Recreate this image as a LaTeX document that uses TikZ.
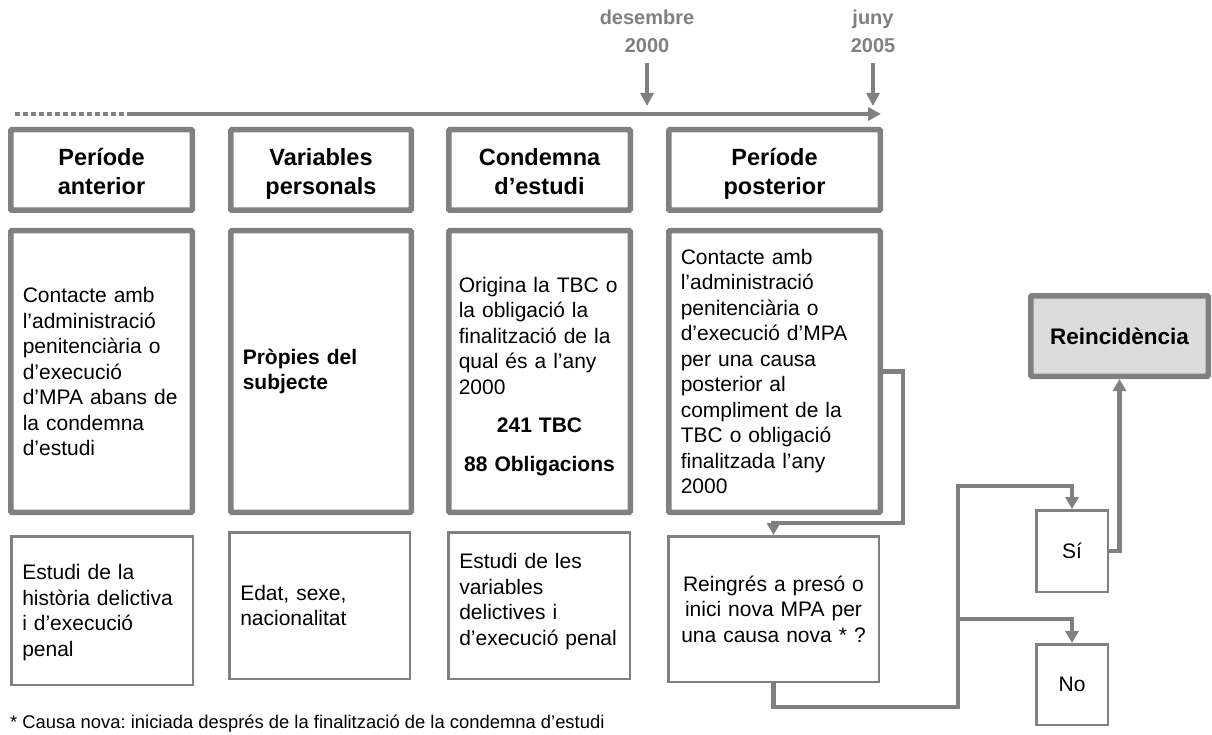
\documentclass[tikz,border=0pt]{standalone}
\usepackage{fontspec}
\setmainfont{Liberation Sans}
\usetikzlibrary{arrows.meta}
\frenchspacing
\definecolor{linegray}{HTML}{808080}
\definecolor{reincfill}{HTML}{DCDCDC}
\newcommand{\bodyfont}{\fontsize{21}{25.5}\selectfont}
\newcommand{\headfont}{\fontsize{23.5}{29}\selectfont\bfseries}
\newcommand{\datefont}{\fontsize{20}{28}\selectfont\bfseries}
\newcommand{\notefont}{\fontsize{18.4}{22}\selectfont}
\newcommand{\hdtop}{\rule{0pt}{27pt}}
\newcommand{\hdbot}{\rule[-6pt]{0pt}{6pt}}
\tikzstyle{headbox} = [rectangle, draw=linegray, line width=5.5pt, rounded corners=1pt, minimum height=80.5pt, align=center, font=\headfont]
\tikzstyle{midbox} = [rectangle, draw=linegray, line width=5.5pt, rounded corners=1pt, minimum height=281.5pt, inner xsep=12pt, align=left, font=\bodyfont]
\tikzstyle{lowbox} = [rectangle, draw=linegray, line width=2.5pt, minimum height=146.5pt, inner xsep=11pt, align=left, font=\bodyfont]
\tikzstyle{answer} = [rectangle, draw=linegray, line width=2.5pt, minimum width=71.5pt, minimum height=81.5pt, font=\bodyfont]
\tikzstyle{goalbox} = [rectangle, draw=linegray, line width=5.5pt, rounded corners=1pt, fill=reincfill, minimum width=177.5pt, minimum height=80.5pt, font=\fontsize{22.5}{27}\selectfont\bfseries]
\tikzstyle{datelabel} = [inner sep=0pt, align=center, text=linegray, font=\datefont]
\tikzstyle{arrow} = [line width=4.5pt, draw=linegray, -{Triangle[length=12pt,width=13pt]}]
\tikzstyle{timeline} = [line width=4pt, draw=linegray, -{Triangle[length=13pt,width=13pt]}]
\tikzstyle{dotline} = [line width=4pt, draw=linegray, dash pattern=on 5pt off 3pt]

\begin{document}
\begin{tikzpicture}[x=1pt, y=-1pt]
    \useasboundingbox (0,0) rectangle (1212,735);

    \node (dec) [datelabel] at (647,31) {desembre\\2000};
    \node (jun) [datelabel] at (873,31) {juny\\2005};

    \node (head1) [headbox, minimum width=181.5pt] at (101.5,170) {\hdtop Període\\anterior\hdbot};
    \node (head2) [headbox, minimum width=180.5pt] at (321,170) {\hdtop Variables\\personals\hdbot};
    \node (head3) [headbox, minimum width=181.5pt] at (539.5,170) {\hdtop Condemna\\d’estudi\hdbot};
    \node (head4) [headbox, minimum width=211.5pt] at (774.5,170) {\hdtop Període\\posterior\hdbot};

    \node (mid1) [midbox, text width=157.5pt] at (101.5,371.5) {Contacte amb\\l’administració\\penitenciària o\\d’execució\\d’MPA abans de\\la condemna\\d’estudi};
    \node (mid2) [midbox, text width=156.5pt, font=\bodyfont\bfseries] at (321,371.5) {Pròpies del\\subjecte};
    \node (mid3) [midbox, inner xsep=10pt, text width=161.5pt] at (539.5,371.5) {\rule{0pt}{24.5pt}Origina la TBC o\\la obligació la\\finalització de la\\qual és a l’any\\2000\\[13pt]\makebox[\linewidth]{\bfseries 241 TBC}\\[13pt]\makebox[\linewidth]{\bfseries 88 Obligacions}};
    \node (mid4) [midbox, text width=187.5pt] at (774.5,371.5) {Contacte amb\\l’administració\\penitenciària o\\d’execució d’MPA\\per una causa\\posterior al\\compliment de la\\TBC o obligació\\finalitzada l’any\\2000};

    \node (low1) [lowbox, text width=159.5pt, minimum height=148.5pt] at (102,610.5) {\rule{0pt}{19pt}Estudi de la\\història delictiva\\i d’execució\\penal};
    \node (low2) [lowbox, text width=158.5pt] at (319.5,605.5) {Edat, sexe,\\nacionalitat};
    \node (low3) [lowbox, text width=159.5pt] at (539,605.5) {Estudi de les\\variables\\delictives i\\d’execució penal\rule[-12.5pt]{0pt}{12.5pt}};
    \node (reing) [lowbox, text width=188.5pt, align=center, minimum height=145.5pt] at (773.5,609) {Reingrés a presó o\\inici nova MPA per\\una causa nova * ?};

    \node (si) [answer] at (1072,551) {Sí};
    \node (no) [answer, minimum height=80.5pt] at (1072,684.5) {No};
    \node (reinc) [goalbox] at (1119.5,336) {Reincidència};

    \node (note) [anchor=west, inner sep=0pt, font=\notefont] at (10,724) {* Causa nova: iniciada després de la finalització de la condemna d’estudi};

    \coordinate (tstart) at (15,114);
    \coordinate (tmid) at (127,114);
    \coordinate (tend) at (881,114);
    \coordinate (turn1) at (903,523);
    \coordinate (split1) at (958,707);
    \coordinate (split2) at (958,486);
    \coordinate (split3) at (958,619);

    \draw [dotline] (tstart) -- (tmid);
    \draw [timeline] (tmid) -- (tend);
    \draw [timeline, shorten <=10pt, shorten >=8pt] (dec.south) -- (dec.south |- tend);
    \draw [timeline, shorten <=10pt, shorten >=8pt] (jun.south) -- (jun.south |- tend);

    \draw [arrow] (mid4.east) -| (turn1) -| (reing.north);
    \draw [arrow] (reing.south) |- (split1) -- (split2) -| (si.north);
    \draw [arrow] (split3) -| (no.north);
    \draw [arrow] (si.east) -| (reinc.south);
\end{tikzpicture}
\end{document}
